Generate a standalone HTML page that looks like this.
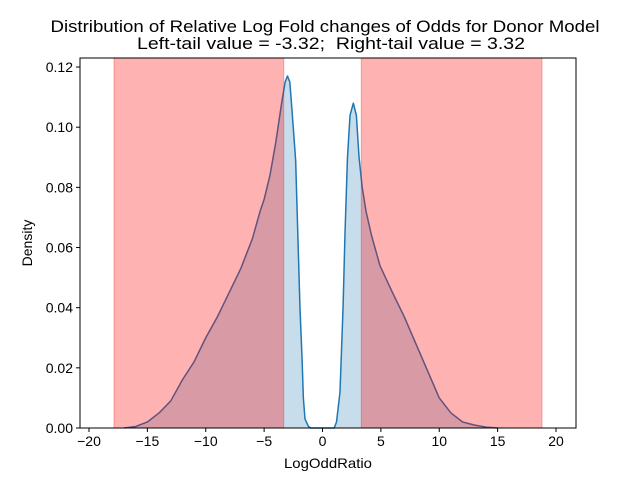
<!DOCTYPE html>
<html><head><meta charset="utf-8"><style>
body{margin:0;background:#fff}
svg{display:block;font-family:"Liberation Sans","DejaVu Sans",sans-serif}
</style></head><body>
<svg id="chart" width="640" height="480" xmlns="http://www.w3.org/2000/svg">
<rect width="640" height="480" fill="#fff"/>
<text x="325" y="32" font-size="16.5" text-anchor="middle" textLength="549" lengthAdjust="spacingAndGlyphs">Distribution of Relative Log Fold changes of Odds for Donor Model</text>
<text x="331" y="49" font-size="16.5" text-anchor="middle" textLength="388" lengthAdjust="spacingAndGlyphs">Left-tail value = -3.32;&#160; Right-tail value = 3.32</text>
<g id="plot"></g>
<text x="328" y="468" font-size="14" text-anchor="middle" textLength="88" lengthAdjust="spacingAndGlyphs">LogOddRatio</text>
<text x="0" y="0" font-size="14" text-anchor="middle" transform="translate(32,243) rotate(-90)">Density</text>
</svg>
<script>
const xs = [-17,-16,-15,-14,-13,-12,-11,-10,-9,-8,-7,-6,-5.35,-5,-4.5,-4,-3.5,-3.2,-3.0,-2.8,-2.6,-2.3,-1.93,-1.75,-1.64,-1.5,-1.2,-1,0,1,1.2,1.5,1.76,1.93,2.14,2.36,2.64,2.9,3.13,3.4,3.73,4.2,4.92,6,7,8,9,10,11,12,13,14,15];
const ys = [0,0.0005,0.002,0.005,0.009,0.016,0.022,0.030,0.037,0.045,0.053,0.063,0.072,0.076,0.084,0.095,0.108,0.115,0.117,0.115,0.105,0.089,0.040,0.023,0.010,0.003,0.0005,0,0,0,0.002,0.012,0.040,0.065,0.090,0.104,0.108,0.104,0.090,0.080,0.072,0.064,0.054,0.045,0.037,0.028,0.019,0.010,0.005,0.002,0.001,0.0003,0];
const xTicks = [-20,-15,-10,-5,0,5,10,15,20];
const yTicks = [0,0.02,0.04,0.06,0.08,0.10,0.12];
const tails = [[-17.86,-3.32],[3.32,18.8]];

const L=80,R=576,T=58,B=428;
const X=v=>322.5+v*11.675;
const Y=v=>B-v*3008;
const NS="http://www.w3.org/2000/svg";
const g=document.getElementById('plot');
function mk(t,a){const e=document.createElementNS(NS,t);for(const k in a)e.setAttribute(k,a[k]);g.appendChild(e);return e;}
let d='M'+X(xs[0])+','+Y(0);
xs.forEach((x,i)=>{d+=' L'+X(x).toFixed(2)+','+Y(ys[i]).toFixed(2);});
const fillPath=d+' L'+X(xs[xs.length-1])+','+Y(0)+' Z';
const f=mk('path',{d:fillPath,fill:'rgba(31,119,180,0.25)'});


let ld='';
xs.forEach((x,i)=>{ld+=(i?' L':'M')+X(x).toFixed(2)+','+Y(ys[i]).toFixed(2);});
const ln=mk('path',{d:ld,fill:'none',stroke:'#1f77b4','stroke-width':1.5,'stroke-linejoin':'round'});


tails.forEach((t,i)=>{
  const r=mk('rect',{x:X(t[0]),y:T,width:X(t[1])-X(t[0]),height:B-T,fill:'rgba(255,0,0,0.3)',stroke:'rgba(255,0,0,0.3)','stroke-width':1});
  
  
});
const fr=mk('rect',{x:L,y:T,width:R-L,height:B-T,fill:'none',stroke:'#000','stroke-width':1});


xTicks.forEach(v=>{
  const x=X(v);
  mk('line',{x1:x,x2:x,y1:B,y2:B+4,stroke:'#000'});
  const t=mk('text',{x:x,y:B+18,'font-size':14,'text-anchor':'middle'});
  
  
  t.textContent=v<0?'\u2212'+(-v):v;
});
yTicks.forEach(v=>{
  const y=Y(v);
  mk('line',{x1:L-4,x2:L,y1:y,y2:y,stroke:'#000'});
  const t=mk('text',{x:L-7,y:y+5,'font-size':14,'text-anchor':'end'});
  
  
  t.textContent=v.toFixed(2);
});
</script>
</body></html>
